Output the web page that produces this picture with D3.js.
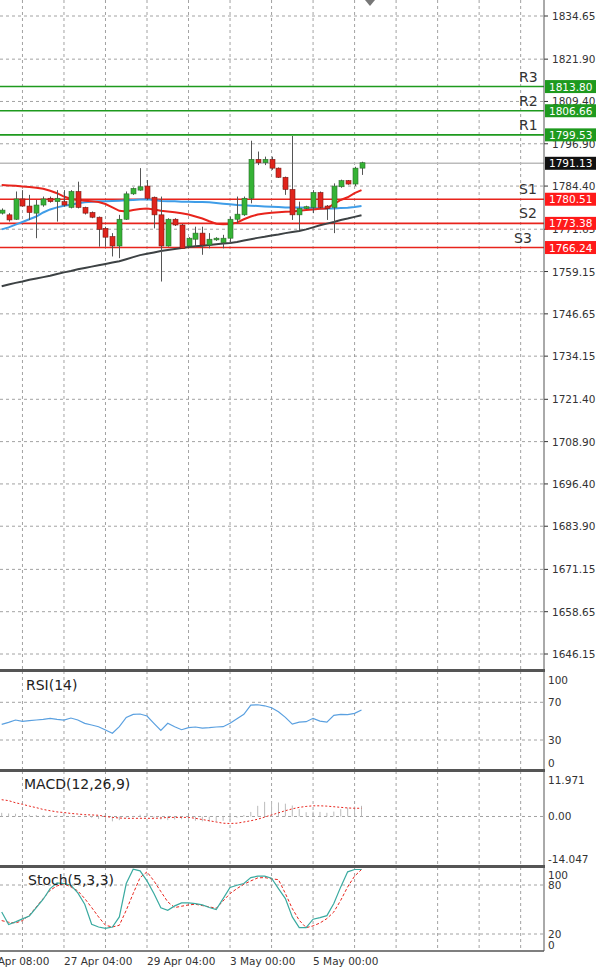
<!DOCTYPE html>
<html><head><meta charset="utf-8">
<script src="https://cdn.jsdelivr.net/npm/d3@7"></script>
<style>body{margin:0;background:#fff}svg{display:block;font-family:Tahoma,"DejaVu Sans",sans-serif}</style>
</head><body><svg id="c" width="600" height="973"></svg>
<script>
const opens=[1776.4,1775.9,1774.6,1780.6,1778.5,1776.4,1778.8,1780.8,1779.8,1779.8,1778.1,1782.8,1778.1,1776.6,1775.2,1771.9,1769.5,1766.7,1774.6,1782.1,1783.2,1784.4,1781.1,1775.9,1766.7,1774.6,1772.9,1766.7,1768.7,1770.5,1767.0,1768.5,1767.7,1769.0,1774.6,1775.9,1780.8,1792.3,1791.3,1792.3,1789.7,1787.0,1783.4,1775.9,1777.8,1778.1,1782.5,1778.5,1778.1,1784.2,1786.0,1785.0,1789.7];
const highs=[1777.8,1776.4,1782.8,1783.2,1781.8,1780.3,1781.3,1781.3,1783.2,1783.2,1783.2,1785.7,1778.3,1776.9,1775.4,1772.4,1770.5,1775.9,1782.8,1784.0,1789.7,1786.2,1781.3,1781.3,1774.9,1774.9,1773.2,1769.3,1772.4,1772.4,1770.5,1769.3,1770.0,1775.4,1781.3,1781.3,1797.8,1794.6,1793.1,1793.1,1789.9,1787.2,1799.2,1779.8,1778.6,1783.2,1782.8,1778.8,1785.2,1786.3,1786.2,1790.1,1791.6];
const lows=[1776.0,1773.9,1774.4,1778.3,1774.4,1769.0,1778.3,1779.5,1773.9,1778.3,1777.8,1777.8,1776.0,1774.9,1766.5,1766.5,1763.6,1763.1,1774.4,1781.8,1783.0,1780.3,1771.9,1756.2,1766.5,1772.6,1765.8,1766.5,1766.5,1764.1,1766.0,1768.2,1766.0,1767.5,1773.4,1775.6,1779.3,1790.6,1790.6,1789.2,1786.8,1781.8,1774.4,1771.4,1777.6,1776.4,1777.8,1774.4,1770.5,1783.9,1784.8,1784.4,1787.7];
const closes=[1777.3,1774.4,1780.6,1778.5,1776.6,1778.8,1780.6,1779.8,1780.8,1778.8,1782.8,1778.1,1776.4,1775.2,1771.6,1769.3,1766.7,1774.6,1782.1,1783.7,1784.2,1780.8,1775.9,1766.7,1774.6,1772.9,1766.0,1769.0,1770.5,1767.0,1768.7,1769.0,1769.0,1774.6,1776.1,1780.8,1792.3,1791.3,1792.3,1789.7,1787.0,1783.4,1775.9,1777.8,1778.3,1782.5,1778.1,1777.8,1784.4,1786.0,1785.0,1789.7,1791.3];
const maRed=[1784.7,1784.6,1784.5,1784.3,1784.1,1783.9,1783.6,1783.0,1782.3,1781.3,1780.6,1780.3,1780.1,1779.9,1779.7,1779.1,1778.1,1777.1,1776.9,1777.3,1777.6,1777.8,1777.5,1777.1,1776.9,1776.7,1776.4,1776.0,1775.4,1774.8,1774.0,1773.3,1773.1,1773.2,1773.6,1774.6,1775.4,1776.0,1776.3,1776.5,1776.7,1776.8,1776.9,1777.1,1777.3,1777.5,1777.7,1777.8,1779.1,1780.3,1781.1,1782.3,1783.2];
const maBlue=[1771.6,1772.2,1773.0,1773.8,1774.6,1775.4,1776.6,1777.5,1778.1,1778.6,1778.9,1779.3,1779.6,1779.8,1779.9,1779.9,1780.0,1780.1,1780.2,1780.3,1780.4,1780.5,1780.3,1780.0,1779.9,1779.9,1779.8,1779.8,1779.7,1779.7,1779.6,1779.4,1779.2,1779.0,1778.8,1778.7,1778.6,1778.5,1778.4,1778.3,1778.2,1778.1,1778.1,1778.1,1778.0,1777.9,1777.8,1777.8,1777.8,1777.9,1778.0,1778.2,1778.5];
const maGray=[1754.8,1755.3,1755.8,1756.2,1756.7,1757.1,1757.5,1757.9,1758.4,1758.9,1759.3,1759.8,1760.2,1760.6,1761.0,1761.4,1761.8,1762.2,1762.8,1763.4,1764.0,1764.4,1764.8,1765.2,1765.5,1765.8,1766.1,1766.4,1766.6,1766.8,1767.0,1767.2,1767.4,1767.6,1767.9,1768.3,1768.7,1769.1,1769.4,1769.8,1770.1,1770.5,1770.8,1771.1,1771.6,1772.2,1772.8,1773.3,1773.8,1774.4,1774.8,1775.3,1775.8];
const rsi=[46.6,48.7,51.2,49.8,50.5,51.2,51.9,53.0,51.9,51.2,53.3,51.2,47.7,45.9,44.1,40.6,37.1,44.1,54.0,57.2,57.6,55.5,47.7,40.2,47.7,44.1,40.9,43.1,43.8,42.7,43.1,43.8,44.1,47.7,52.6,57.2,67.1,67.4,66.3,64.2,60.0,54.0,46.9,49.0,49.4,53.0,50.1,49.0,56.2,57.2,56.9,58.3,61.8];
const macdHist=[1.2,1.0,0.9,0.8,0.6,0.5,0.5,0.4,0.3,0.3,0.2,0.1,-0.2,-0.4,-0.8,-1.2,-1.6,-1.2,-0.4,0.2,0.6,0.3,-0.4,-1.0,-1.2,-1.0,-0.9,-1.1,-1.4,-1.6,-1.7,-1.6,-1.4,-1.0,-0.4,0.5,1.5,3.5,4.8,5.0,4.6,4.2,3.6,2.4,1.4,1.6,1.5,1.2,1.6,2.4,2.9,3.3,3.5];
const macdSignal=[5.5,5.2,4.5,4.0,3.4,2.9,2.3,1.9,1.5,1.3,1.0,0.8,0.6,0.5,0.4,0.0,-0.3,-0.5,-0.6,-0.6,-0.6,-0.6,-0.6,-0.5,-0.3,-0.3,-0.3,-0.3,-0.6,-1.0,-1.4,-1.8,-2.2,-2.3,-2.2,-1.8,-1.4,-0.9,-0.2,0.5,1.2,1.9,2.5,3.0,3.3,3.5,3.5,3.4,3.2,3.0,2.8,2.7,2.7];
const stochK=[47.0,31.5,34.8,38.5,42.1,52.4,62.6,75.6,82.6,81.8,79.7,70.3,56.4,31.9,28.6,27.0,28.6,40.9,81.8,99.3,97.3,85.0,69.5,52.0,49.1,54.4,58.1,58.1,57.3,55.6,52.4,49.9,63.4,76.9,79.7,81.8,89.1,90.8,90.8,88.3,75.6,63.4,40.9,27.8,27.8,38.1,40.1,42.5,57.3,77.7,96.1,99,99];
const stochD=[36.4,34.4,33.5,36.4,42.9,53.2,63.4,73.6,78.9,81.4,77.7,72.8,63.4,52.4,40.9,30.7,28.6,30.7,49.1,69.5,89.1,96.1,85.0,72.0,59.3,52.4,54.0,55.6,56.4,54.8,53.2,51.5,60.5,69.5,75.6,80.9,85.0,88.7,89.1,87.5,86.6,69.5,51.1,36.8,27.8,29.9,33.5,38.9,47.0,61.3,77.7,90.8,99];
const priceTicks=[1834.65,1821.90,1809.40,1796.90,1784.40,1771.65,1759.15,1746.65,1734.15,1721.40,1708.90,1696.40,1683.90,1671.15,1658.65,1646.15];
const levelNames=["R3","R2","R1","S1","S2","S3"];
const levelValues=[1813.80,1806.66,1799.53,1780.51,1773.38,1766.24];
const lastPrice=1791.13;
const timeLabels=["26 Apr 08:00","27 Apr 04:00","29 Apr 04:00","3 May 00:00","5 May 00:00"];
const timeLabelIdx=[-3,9,21,33,45];

const svg=d3.select("#c");
const R=544, GREEN="#1e9a1e", RED="#e8241c";
const x=d3.scaleLinear().domain([0,52]).range([1.7,361.5]);
const y=d3.scaleLinear().domain([1834.65,1646.15]).range([16,654]);
const yR=d3.scaleLinear().domain([30,70]).range([740,702.3]);
const yM=d3.scaleLinear().domain([11.971,-14.047]).range([780,859.3]);
const yS=d3.scaleLinear().domain([20,80]).range([934,885]);
const panels=[[0,670],[671,770],[771,866],[867,951]];
const gridIdx=d3.range(3,80,6).filter(i=>x(i)<R);
const dash="3,3";
// grids
panels.forEach(([t,b])=>{
  svg.append("g").selectAll("line").data(gridIdx).join("line")
   .attr("x1",d=>x(d)).attr("x2",d=>x(d)).attr("y1",t).attr("y2",b)
   .attr("stroke","#8a8a8a").attr("stroke-width",0.8).attr("stroke-dasharray",dash);
});
function hgrid(vals,sc,t){
  svg.append("g").selectAll("line").data(vals).join("line")
   .attr("x1",0).attr("x2",R).attr("y1",d=>sc(d)).attr("y2",d=>sc(d))
   .attr("stroke","#8a8a8a").attr("stroke-width",0.8).attr("stroke-dasharray",dash);
}
hgrid(priceTicks,y);hgrid([70,30],yR);hgrid([0],yM);hgrid([80,20],yS);
// axes text
const ax=svg.append("g").attr("font-size",10.5).attr("fill","#333");
ax.selectAll(".pt").data(priceTicks).join("text").attr("x",R+8).attr("y",d=>y(d)+4).text(d=>d.toFixed(2));
ax.selectAll(".pk").data(priceTicks).join("line").attr("x1",R).attr("x2",R+4).attr("y1",d=>y(d)).attr("y2",d=>y(d)).attr("stroke","#333");
[[100,680],[70,702],[30,740],[0,763]].forEach(([v,py])=>ax.append("text").attr("x",R+4).attr("y",py+4).text(v));
[["11.971",yM(11.971)],["0.00",yM(0)],["-14.047",yM(-14.047)]].forEach(([v,py])=>ax.append("text").attr("x",R+4).attr("y",py+4).text(v));
[[100,875],[80,885],[20,934],[0,945]].forEach(([v,py])=>ax.append("text").attr("x",R+4).attr("y",py+4).text(v));
ax.selectAll(".tl").data(timeLabels).join("text").attr("x",(d,i)=>x(timeLabelIdx[i])).attr("y",965).text(d=>d);
// level lines
const lv=svg.append("g");
lv.append("line").attr("x1",0).attr("x2",R).attr("y1",y(lastPrice)).attr("y2",y(lastPrice)).attr("stroke","#bbb").attr("stroke-width",1.5);
levelValues.forEach((v,i)=>{
  const c=i<3?GREEN:RED;
  lv.append("line").attr("x1",0).attr("x2",R).attr("y1",y(v)).attr("y2",y(v)).attr("stroke",c).attr("stroke-width",1.6);
  lv.append("text").attr("x",i==5?514:519).attr("y",y(v)-5).attr("font-size",14).attr("fill","#333").text(levelNames[i]);
});
// MAs
const line=(arr)=>d3.line().x((d,i)=>x(i)).y(d=>y(d))(arr);
svg.append("path").attr("d",line(maGray)).attr("fill","none").attr("stroke","#3d4244").attr("stroke-width",2);
svg.append("path").attr("d",line(maBlue)).attr("fill","none").attr("stroke","#3f9de8").attr("stroke-width",2);
svg.append("path").attr("d",line(maRed)).attr("fill","none").attr("stroke",RED).attr("stroke-width",2);
// candles
const cg=svg.append("g");
opens.forEach((o,i)=>{
  const c=closes[i],up=c>=o,cx=Math.round(x(i))+0.5;
  cg.append("line").attr("x1",cx).attr("x2",cx).attr("y1",y(highs[i])).attr("y2",y(lows[i])).attr("stroke","#555").attr("stroke-width",1);
  cg.append("rect").attr("x",cx-2.5).attr("width",5).attr("y",y(Math.max(o,c))).attr("height",Math.max(1,Math.abs(y(o)-y(c))))
   .attr("fill",up?"#35b335":"#e0241c").attr("stroke",up?"#2d6b2d":"#7a1a14").attr("stroke-width",0.6);
});
// price boxes
function box(v,col,tc){
  const g=svg.append("g");
  g.append("rect").attr("x",R+1).attr("y",y(v)-6.5).attr("width",51).attr("height",13).attr("fill",col);
  g.append("text").attr("x",R+5).attr("y",y(v)+4).attr("font-size",10.5).attr("fill",tc).text(v.toFixed(2));
}
levelValues.forEach((v,i)=>box(v,i<3?GREEN:"#ff1a1a","#fff"));
box(lastPrice,"#111","#fff");
// RSI
svg.append("path").attr("d",d3.line().x((d,i)=>x(i)).y(d=>yR(d))(rsi)).attr("fill","none").attr("stroke","#5aa0e0").attr("stroke-width",1.2);
// MACD
svg.append("g").selectAll("line").data(macdHist).join("line").attr("x1",(d,i)=>x(i)).attr("x2",(d,i)=>x(i))
 .attr("y1",yM(0)).attr("y2",d=>yM(d)).attr("stroke","#bbb").attr("stroke-width",1);
svg.append("path").attr("d",d3.line().x((d,i)=>x(i)).y(d=>yM(d))(macdSignal)).attr("fill","none").attr("stroke",RED).attr("stroke-width",1).attr("stroke-dasharray","2,2");
// Stoch
svg.append("path").attr("d",d3.line().x((d,i)=>x(i)).y(d=>yS(d))(stochD)).attr("fill","none").attr("stroke",RED).attr("stroke-width",1).attr("stroke-dasharray","3,2");
svg.append("path").attr("d",d3.line().x((d,i)=>x(i)).y(d=>yS(d))(stochK)).attr("fill","none").attr("stroke","#3aaaa0").attr("stroke-width",1.2);
// titles
[["RSI(14)",690],["MACD(12,26,9)",789],["Stoch(5,3,3)",885]].forEach(([t,py],i)=>
  svg.append("text").attr("x",i==0?26:i==1?24:28).attr("y",py).attr("font-size",14).attr("fill","#222").text(t));
// borders
panels.forEach(([t,b],i)=>{
  svg.append("line").attr("x1",R).attr("x2",R).attr("y1",t).attr("y2",b).attr("stroke","#555");
  if(i>0) svg.append("rect").attr("x",0).attr("y",t-2).attr("width",R+1).attr("height",3).attr("fill","#555");
});
svg.append("line").attr("x1",0).attr("x2",R).attr("y1",951).attr("y2",951).attr("stroke","#555").attr("stroke-width",1.5);
svg.append("path").attr("d","M365,0 L375,0 L370,6 Z").attr("fill","#777");
</script></body></html>
